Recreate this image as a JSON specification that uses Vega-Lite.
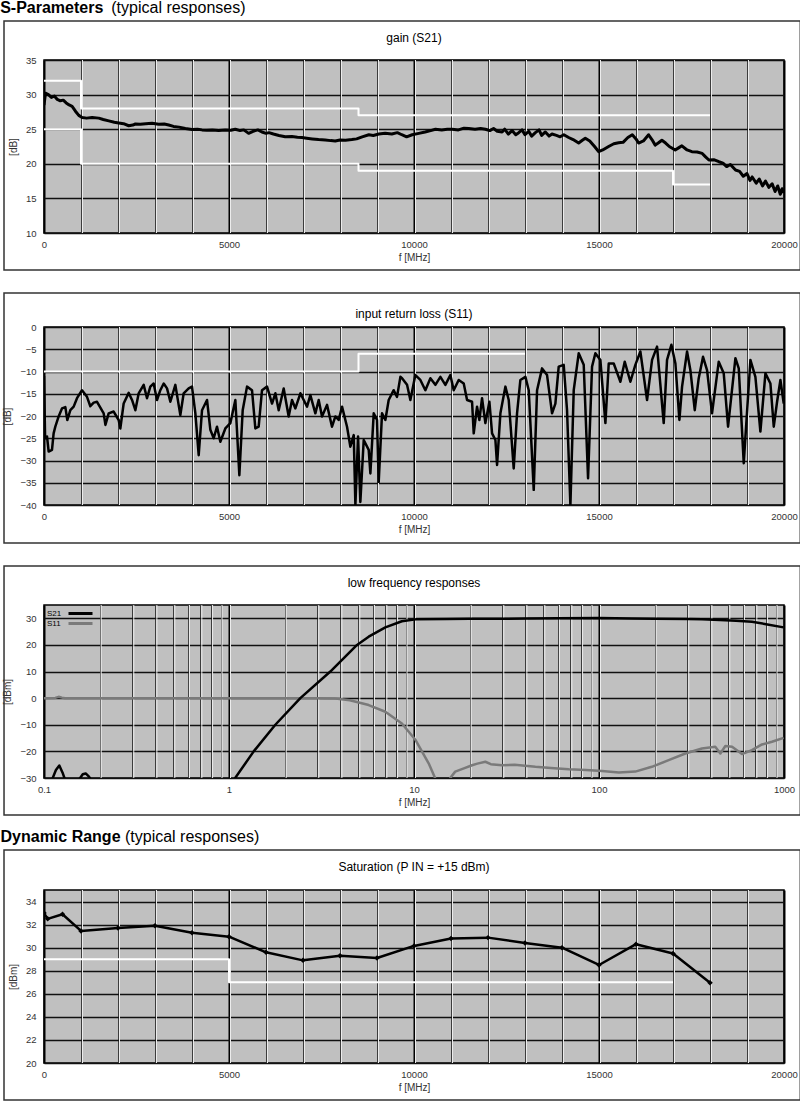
{
  "background": "white",
  "padding": 0,
  "config": {
    "font": "Liberation Sans",
    "view": {"fill": "#c0c0c0", "stroke": "#000", "strokeWidth": 1.5},
    "axis": {"labelFont": "Liberation Sans", "labelFontSize": 9.5, "labelColor": "#333", "titleFont": "Liberation Sans", "titleFontSize": 10, "titleFontWeight": "normal", "titleColor": "#333", "ticks": false, "domain": false, "grid": true, "gridOpacity": 1, "labelFlush": false, "labelOverlap": false, "labelBound": false},
    "axisX": {"labelPadding": 6, "titlePadding": 4},
    "axisY": {"labelPadding": 8, "titlePadding": 7},
    "title": {"font": "Liberation Sans", "fontSize": 12, "fontWeight": "normal", "color": "#000"},
    "line": {"strokeJoin": "round"}
  },
  "datasets": {
    "gridLin": [{"f":1000},{"f":2000},{"f":3000},{"f":4000},{"f":5000},{"f":6000},{"f":7000},{"f":8000},{"f":9000},{"f":10000},{"f":11000},{"f":12000},{"f":13000},{"f":14000},{"f":15000},{"f":16000},{"f":17000},{"f":18000},{"f":19000}],
    "gridLog": [{"f":0.2},{"f":0.3},{"f":0.4},{"f":0.5},{"f":0.6},{"f":0.7},{"f":0.8},{"f":0.9},{"f":1},{"f":2},{"f":3},{"f":4},{"f":5},{"f":6},{"f":7},{"f":8},{"f":9},{"f":10},{"f":20},{"f":30},{"f":40},{"f":50},{"f":60},{"f":70},{"f":80},{"f":90},{"f":100},{"f":200},{"f":300},{"f":400},{"f":500},{"f":600},{"f":700},{"f":800},{"f":900}],
    "gain": [
      {"f":0,"v":28.5},{"f":40,"v":30.2},{"f":120,"v":30.0},{"f":200,"v":29.6},{"f":280,"v":29.8},{"f":360,"v":29.3},{"f":440,"v":29.1},{"f":520,"v":29.2},{"f":600,"v":28.8},{"f":680,"v":28.5},{"f":760,"v":28.3},{"f":850,"v":27.6},{"f":940,"v":27.0},{"f":1030,"v":26.7},{"f":1150,"v":26.6},{"f":1300,"v":26.7},{"f":1480,"v":26.6},{"f":1600,"v":26.4},{"f":1750,"v":26.2},{"f":1900,"v":26.0},{"f":2020,"v":25.9},{"f":2150,"v":25.8},{"f":2290,"v":25.5},{"f":2400,"v":25.6},{"f":2470,"v":25.75},{"f":2600,"v":25.7},{"f":2750,"v":25.8},{"f":2920,"v":25.85},{"f":3100,"v":25.7},{"f":3250,"v":25.75},{"f":3370,"v":25.6},{"f":3500,"v":25.4},{"f":3650,"v":25.3},{"f":3820,"v":25.1},{"f":4000,"v":24.95},{"f":4150,"v":25.0},{"f":4270,"v":24.9},{"f":4400,"v":24.85},{"f":4550,"v":24.9},{"f":4720,"v":24.8},{"f":4900,"v":24.9},{"f":5050,"v":24.85},{"f":5170,"v":25.0},{"f":5300,"v":24.8},{"f":5400,"v":24.9},{"f":5530,"v":24.4},{"f":5650,"v":24.7},{"f":5780,"v":24.9},{"f":5890,"v":24.6},{"f":6000,"v":24.4},{"f":6080,"v":24.5},{"f":6200,"v":24.3},{"f":6350,"v":24.1},{"f":6520,"v":23.9},{"f":6700,"v":23.95},{"f":6850,"v":23.85},{"f":6970,"v":23.8},{"f":7100,"v":23.7},{"f":7250,"v":23.6},{"f":7420,"v":23.5},{"f":7600,"v":23.45},{"f":7750,"v":23.35},{"f":7870,"v":23.3},{"f":8000,"v":23.45},{"f":8150,"v":23.4},{"f":8320,"v":23.5},{"f":8450,"v":23.6},{"f":8600,"v":23.9},{"f":8780,"v":24.2},{"f":8900,"v":24.1},{"f":9050,"v":24.3},{"f":9220,"v":24.4},{"f":9400,"v":24.3},{"f":9550,"v":24.5},{"f":9670,"v":24.2},{"f":9800,"v":23.9},{"f":9950,"v":24.2},{"f":10130,"v":24.4},{"f":10300,"v":24.6},{"f":10450,"v":24.8},{"f":10580,"v":25.0},{"f":10750,"v":24.9},{"f":10900,"v":25.0},{"f":11030,"v":25.0},{"f":11200,"v":24.9},{"f":11350,"v":25.15},{"f":11480,"v":25.1},{"f":11650,"v":25.0},{"f":11800,"v":25.1},{"f":11930,"v":25.0},{"f":12050,"v":24.8},{"f":12150,"v":25.1},{"f":12250,"v":24.7},{"f":12380,"v":24.6},{"f":12450,"v":25.0},{"f":12550,"v":24.3},{"f":12650,"v":24.8},{"f":12750,"v":24.2},{"f":12830,"v":24.5},{"f":12920,"v":24.9},{"f":13000,"v":24.2},{"f":13100,"v":24.7},{"f":13180,"v":24.0},{"f":13280,"v":24.5},{"f":13380,"v":24.9},{"f":13450,"v":24.1},{"f":13550,"v":24.6},{"f":13650,"v":24.0},{"f":13730,"v":24.3},{"f":13850,"v":24.1},{"f":13950,"v":23.9},{"f":14050,"v":24.2},{"f":14180,"v":23.8},{"f":14300,"v":23.5},{"f":14450,"v":23.0},{"f":14550,"v":23.4},{"f":14630,"v":23.7},{"f":14750,"v":23.3},{"f":14880,"v":22.5},{"f":14990,"v":21.75},{"f":15100,"v":22.0},{"f":15260,"v":22.5},{"f":15400,"v":22.9},{"f":15530,"v":23.05},{"f":15650,"v":23.1},{"f":15780,"v":23.8},{"f":15900,"v":24.2},{"f":16000,"v":23.6},{"f":16070,"v":23.0},{"f":16200,"v":23.3},{"f":16340,"v":24.2},{"f":16430,"v":23.5},{"f":16520,"v":22.7},{"f":16600,"v":23.0},{"f":16700,"v":23.4},{"f":16800,"v":23.0},{"f":16900,"v":22.5},{"f":17060,"v":22.0},{"f":17150,"v":22.3},{"f":17240,"v":22.6},{"f":17380,"v":22.0},{"f":17510,"v":21.75},{"f":17650,"v":21.7},{"f":17790,"v":21.5},{"f":17880,"v":21.0},{"f":17970,"v":20.55},{"f":18100,"v":20.6},{"f":18240,"v":20.3},{"f":18350,"v":20.1},{"f":18450,"v":19.6},{"f":18550,"v":19.9},{"f":18690,"v":19.1},{"f":18800,"v":18.9},{"f":18900,"v":18.2},{"f":19000,"v":18.6},{"f":19080,"v":17.6},{"f":19140,"v":18.1},{"f":19250,"v":17.2},{"f":19330,"v":17.8},{"f":19420,"v":16.8},{"f":19500,"v":17.5},{"f":19590,"v":16.6},{"f":19680,"v":17.1},{"f":19760,"v":16.0},{"f":19830,"v":16.8},{"f":19900,"v":15.6},{"f":19950,"v":16.4},{"f":20000,"v":15.8}
    ],
    "gainLim": [
      {"s":"upper","f":0,"v":32},{"s":"upper","f":1000,"v":28},{"s":"upper","f":8500,"v":27},{"s":"upper","f":18000,"v":27},
      {"s":"lower","f":0,"v":25},{"s":"lower","f":1000,"v":20},{"s":"lower","f":8500,"v":19},{"s":"lower","f":17000,"v":17},{"s":"lower","f":18000,"v":17}
    ],
    "s11": [
      {"f":0,"v":-11},{"f":30,"v":-25},{"f":81,"v":-24.6},{"f":126,"v":-28.0},{"f":216,"v":-27.6},{"f":260,"v":-23.9},{"f":306,"v":-22.4},{"f":396,"v":-20.1},{"f":486,"v":-18.3},{"f":577,"v":-18.0},{"f":630,"v":-20.9},{"f":712,"v":-18.7},{"f":802,"v":-17.9},{"f":892,"v":-16.0},{"f":1027,"v":-14.2},{"f":1162,"v":-15.7},{"f":1252,"v":-17.8},{"f":1343,"v":-17.0},{"f":1433,"v":-16.8},{"f":1523,"v":-18.1},{"f":1613,"v":-19.4},{"f":1660,"v":-22.0},{"f":1748,"v":-19.4},{"f":1883,"v":-19.0},{"f":2018,"v":-20.9},{"f":2063,"v":-22.8},{"f":2153,"v":-17.2},{"f":2289,"v":-14.8},{"f":2379,"v":-16.4},{"f":2469,"v":-18.7},{"f":2559,"v":-14.9},{"f":2694,"v":-13.0},{"f":2784,"v":-16.0},{"f":2874,"v":-13.4},{"f":2964,"v":-12.7},{"f":3054,"v":-16.4},{"f":3144,"v":-14.2},{"f":3235,"v":-12.7},{"f":3325,"v":-13.8},{"f":3415,"v":-16.8},{"f":3550,"v":-13.0},{"f":3685,"v":-19.8},{"f":3775,"v":-14.9},{"f":3910,"v":-13.8},{"f":4000,"v":-13.4},{"f":4091,"v":-19.4},{"f":4181,"v":-28.8},{"f":4271,"v":-18.7},{"f":4406,"v":-16.4},{"f":4496,"v":-23.1},{"f":4586,"v":-25.0},{"f":4676,"v":-22.4},{"f":4766,"v":-25.8},{"f":4901,"v":-22.8},{"f":5036,"v":-21.6},{"f":5172,"v":-16.4},{"f":5280,"v":-33.3},{"f":5370,"v":-18.7},{"f":5487,"v":-13.4},{"f":5622,"v":-14.2},{"f":5712,"v":-22.8},{"f":5802,"v":-22.4},{"f":5892,"v":-14.2},{"f":6028,"v":-13.4},{"f":6163,"v":-17.2},{"f":6253,"v":-14.9},{"f":6343,"v":-18.7},{"f":6478,"v":-13.8},{"f":6613,"v":-20.1},{"f":6703,"v":-16.4},{"f":6794,"v":-18.3},{"f":6929,"v":-14.9},{"f":7019,"v":-16.4},{"f":7109,"v":-17.9},{"f":7199,"v":-15.3},{"f":7334,"v":-19.4},{"f":7424,"v":-16.4},{"f":7514,"v":-20.1},{"f":7649,"v":-17.5},{"f":7784,"v":-22.4},{"f":7875,"v":-20.1},{"f":7965,"v":-20.9},{"f":8055,"v":-17.9},{"f":8190,"v":-22.4},{"f":8280,"v":-26.9},{"f":8371,"v":-24.3},{"f":8416,"v":-40},{"f":8488,"v":-24.6},{"f":8550,"v":-39.3},{"f":8641,"v":-25.4},{"f":8776,"v":-27.6},{"f":8821,"v":-32.9},{"f":8911,"v":-19.4},{"f":9001,"v":-20.9},{"f":9046,"v":-34.8},{"f":9136,"v":-19.4},{"f":9226,"v":-20.9},{"f":9316,"v":-16.4},{"f":9451,"v":-14.2},{"f":9541,"v":-15.7},{"f":9632,"v":-11.2},
      {"f":9677,"v":-11.5},{"f":9812,"v":-13.0},{"f":9902,"v":-16.4},{"f":10037,"v":-10.8},{"f":10172,"v":-11.9},{"f":10307,"v":-14.2},{"f":10443,"v":-11.5},{"f":10578,"v":-13.0},{"f":10713,"v":-11.2},{"f":10848,"v":-13.0},{"f":10983,"v":-10.8},{"f":11073,"v":-14.2},{"f":11208,"v":-11.9},{"f":11344,"v":-12.7},{"f":11434,"v":-16.4},{"f":11569,"v":-16.8},{"f":11614,"v":-23.9},{"f":11704,"v":-17.9},{"f":11767,"v":-20.9},{"f":11839,"v":-16.0},{"f":11929,"v":-21.6},{"f":12038,"v":-16.8},{"f":12110,"v":-23.9},{"f":12200,"v":-25.4},{"f":12245,"v":-31.0},{"f":12335,"v":-19.4},{"f":12470,"v":-13.4},{"f":12560,"v":-16.4},{"f":12695,"v":-31.8},{"f":12785,"v":-19.4},{"f":12875,"v":-11.9},{"f":13011,"v":-11.2},{"f":13101,"v":-14.2},{"f":13236,"v":-36.6},{"f":13326,"v":-14.2},{"f":13461,"v":-9.3},{"f":13596,"v":-10.8},{"f":13731,"v":-19.4},{"f":13821,"v":-17.2},{"f":13911,"v":-8.9},{"f":14046,"v":-8.5},{"f":14136,"v":-18.7},{"f":14227,"v":-40},{"f":14317,"v":-14.2},{"f":14452,"v":-5.9},{"f":14587,"v":-8.5},{"f":14704,"v":-34.0},{"f":14812,"v":-8.9},{"f":14902,"v":-5.9},{"f":15037,"v":-7.4},{"f":15173,"v":-21.6},{"f":15263,"v":-8.2},{"f":15398,"v":-8.2},{"f":15578,"v":-12.3},{"f":15695,"v":-7.8},{"f":15848,"v":-12.3},{"f":15983,"v":-8.5},{"f":16118,"v":-5.5},{"f":16299,"v":-16.4},{"f":16434,"v":-7.4},{"f":16569,"v":-4.4},{"f":16749,"v":-21.6},{"f":16839,"v":-7.4},{"f":16956,"v":-4.0},{"f":17065,"v":-8.2},{"f":17173,"v":-20.9},{"f":17245,"v":-13.4},{"f":17380,"v":-5.5},{"f":17470,"v":-9.7},{"f":17588,"v":-18.7},{"f":17695,"v":-11.5},{"f":17812,"v":-6.7},{"f":17920,"v":-9.7},{"f":18055,"v":-19.4},{"f":18236,"v":-7.8},{"f":18371,"v":-10.4},{"f":18488,"v":-22.4},{"f":18687,"v":-7.0},{"f":18777,"v":-9.3},{"f":18912,"v":-30.6},{"f":19092,"v":-7.4},{"f":19227,"v":-11.2},{"f":19362,"v":-23.5},{"f":19498,"v":-10.4},{"f":19633,"v":-12.7},{"f":19723,"v":-22.4},{"f":19813,"v":-16.8},{"f":19903,"v":-11.9},{"f":19993,"v":-17.2}
    ],
    "s11Lim": [
      {"f":0,"v":-10},{"f":8500,"v":-6},{"f":13000,"v":-6}
    ],
    "lf": [
      {"s":"S11","f":0.1,"v":0},{"s":"S11","f":0.115,"v":0.1},{"s":"S11","f":0.12,"v":0.5},{"s":"S11","f":0.125,"v":0.2},{"s":"S11","f":0.13,"v":0},{"s":"S11","f":0.5,"v":0},{"s":"S11","f":1,"v":0},{"s":"S11","f":2,"v":0},{"s":"S11","f":3,"v":0},{"s":"S11","f":3.76,"v":-0.1},{"s":"S11","f":4.5,"v":-0.8},{"s":"S11","f":5.69,"v":-2.6},{"s":"S11","f":7.0,"v":-5.1},{"s":"S11","f":8.6,"v":-9.5},{"s":"S11","f":10.2,"v":-15.75},{"s":"S11","f":12.0,"v":-24.5},{"s":"S11","f":13.0,"v":-30},{"s":"S11","f":13.5,"v":-33},{"s":"S11","f":15.0,"v":-33},{"s":"S11","f":15.7,"v":-30},{"s":"S11","f":16.7,"v":-27.6},{"s":"S11","f":18.6,"v":-26.4},{"s":"S11","f":20.6,"v":-25.2},{"s":"S11","f":22,"v":-24.6},{"s":"S11","f":24.3,"v":-23.9},{"s":"S11","f":26,"v":-24.8},{"s":"S11","f":29.9,"v":-25.2},{"s":"S11","f":35,"v":-25.0},{"s":"S11","f":45.3,"v":-25.8},{"s":"S11","f":55,"v":-26.2},{"s":"S11","f":68.6,"v":-26.7},{"s":"S11","f":85,"v":-27.0},{"s":"S11","f":104,"v":-27.4},{"s":"S11","f":128,"v":-27.9},{"s":"S11","f":157,"v":-27.6},{"s":"S11","f":193,"v":-25.8},{"s":"S11","f":238,"v":-23.3},{"s":"S11","f":293,"v":-20.8},{"s":"S11","f":360,"v":-18.9},{"s":"S11","f":425,"v":-18.3},{"s":"S11","f":453,"v":-20.8},{"s":"S11","f":482,"v":-18.0},{"s":"S11","f":524,"v":-18.3},{"s":"S11","f":593,"v":-21.0},{"s":"S11","f":671,"v":-19.5},{"s":"S11","f":760,"v":-17.4},{"s":"S11","f":861,"v":-16.4},{"s":"S11","f":995,"v":-14.9},
      {"s":"S21","f":0.1,"v":-34},{"s":"S21","f":0.11,"v":-31},{"s":"S21","f":0.116,"v":-27},{"s":"S21","f":0.121,"v":-25.3},{"s":"S21","f":0.126,"v":-28},{"s":"S21","f":0.132,"v":-32},{"s":"S21","f":0.145,"v":-34},{"s":"S21","f":0.155,"v":-30.5},{"s":"S21","f":0.162,"v":-28.6},{"s":"S21","f":0.168,"v":-28.3},{"s":"S21","f":0.175,"v":-29.5},{"s":"S21","f":0.185,"v":-32},{"s":"S21","f":0.2,"v":-35},{"s":"S21","f":1.0,"v":-36},{"s":"S21","f":1.08,"v":-30},{"s":"S21","f":1.36,"v":-20},{"s":"S21","f":1.78,"v":-10},{"s":"S21","f":2.43,"v":0},{"s":"S21","f":3.53,"v":10},{"s":"S21","f":4.92,"v":20},{"s":"S21","f":5.69,"v":23.1},{"s":"S21","f":7.0,"v":26.6},{"s":"S21","f":8.6,"v":28.9},{"s":"S21","f":10.2,"v":29.6},{"s":"S21","f":15,"v":29.7},{"s":"S21","f":20,"v":29.8},{"s":"S21","f":40,"v":29.9},{"s":"S21","f":60,"v":30.0},{"s":"S21","f":100,"v":30.1},{"s":"S21","f":150,"v":29.9},{"s":"S21","f":200,"v":29.8},{"s":"S21","f":300,"v":29.7},{"s":"S21","f":360,"v":29.6},{"s":"S21","f":450,"v":29.4},{"s":"S21","f":550,"v":29.1},{"s":"S21","f":671,"v":28.7},{"s":"S21","f":800,"v":27.8},{"s":"S21","f":995,"v":26.6}
    ],
    "sat": [
      {"f":0,"v":33.0},{"f":100,"v":32.5},{"f":500,"v":32.9},{"f":1000,"v":31.45},{"f":2000,"v":31.7},{"f":3000,"v":31.9},{"f":4000,"v":31.3},{"f":5000,"v":30.95},{"f":6000,"v":29.6},{"f":7000,"v":28.9},{"f":8000,"v":29.3},{"f":9000,"v":29.1},{"f":10000,"v":30.15},{"f":11000,"v":30.8},{"f":12000,"v":30.87},{"f":13000,"v":30.4},{"f":14000,"v":30.0},{"f":15000,"v":28.5},{"f":16000,"v":30.3},{"f":17000,"v":29.5},{"f":18000,"v":26.96}
    ],
    "satLim": [
      {"f":0,"v":29},{"f":5000,"v":27},{"f":17000,"v":27}
    ]
  },
  "spacing": 12,
  "resolve": {"legend": {"color": "independent"}},
  "vconcat": [
    {
      "title": {"text": "S-Parameters", "subtitle": "\u200b\u00a0\u00a0\u00a0\u00a0\u00a0\u00a0\u00a0\u00a0\u00a0\u00a0\u00a0\u00a0\u00a0\u00a0\u00a0\u00a0\u00a0\u00a0\u00a0\u00a0\u00a0\u00a0\u00a0\u00a0\u00a0(typical responses)", "anchor": "start", "frame": "bounds", "fontSize": 16, "fontWeight": "bold", "subtitleFont": "Liberation Sans", "subtitleFontSize": 16, "subtitleColor": "#000", "subtitlePadding": -16, "offset": 3, "dx": -2},
      "spacing": 19,
      "resolve": {"legend": {"color": "independent"}},
      "vconcat": [
        {
          "width": 740, "height": 173,
          "title": {"text": "gain (S21)", "offset": -25, "anchor": "middle", "frame": "group"},
          "layer": [
            {"data": {"values": [{}]}, "mark": {"type": "rect", "fill": null, "stroke": "#333", "strokeWidth": 1.5, "clip": false},
             "encoding": {
               "x": {"datum": -1081, "type": "quantitative", "scale": {"domain": [0, 20000], "nice": false, "zero": false},
                     "axis": {"title": "f [MHz]", "format": "d", "values": [0,1000,2000,3000,4000,5000,6000,7000,8000,9000,10000,11000,12000,13000,14000,15000,16000,17000,18000,19000,20000], "labelExpr": "datum.value % 5000 === 0 ? datum.label : ''", "gridWidth": {"condition": {"test": "datum.value % 5000 === 0", "value": 2}, "value": 1}, "gridColor": {"condition": {"test": "datum.value % 5000 === 0", "value": "#000"}, "value": "#3c3c3c"}}},
               "x2": {"datum": 20440},
               "y": {"datum": 40.64, "type": "quantitative", "scale": {"domain": [10, 35], "nice": false, "zero": false},
                     "axis": {"title": "[dB]", "values": [10,15,20,25,30,35], "gridColor": "#111", "gridWidth": 1.5}},
               "y2": {"datum": 4.65}}},
            {"data": {"name": "gridLin"}, "mark": {"type": "rule", "color": "#ececec", "strokeWidth": 1, "xOffset": 1.5},
             "encoding": {
               "x": {"field": "f", "type": "quantitative", "axis": {"title": "f [MHz]", "format": "d", "values": [0,1000,2000,3000,4000,5000,6000,7000,8000,9000,10000,11000,12000,13000,14000,15000,16000,17000,18000,19000,20000], "labelExpr": "datum.value % 5000 === 0 ? datum.label : ''", "gridWidth": {"condition": {"test": "datum.value % 5000 === 0", "value": 2}, "value": 1}, "gridColor": {"condition": {"test": "datum.value % 5000 === 0", "value": "#000"}, "value": "#3c3c3c"}}}}},
            {"data": {"name": "gainLim"}, "mark": {"type": "line", "interpolate": "step-after", "color": "white", "strokeWidth": 2},
             "encoding": {
               "x": {"field": "f", "type": "quantitative", "axis": {"title": "f [MHz]", "format": "d", "values": [0,1000,2000,3000,4000,5000,6000,7000,8000,9000,10000,11000,12000,13000,14000,15000,16000,17000,18000,19000,20000], "labelExpr": "datum.value % 5000 === 0 ? datum.label : ''", "gridWidth": {"condition": {"test": "datum.value % 5000 === 0", "value": 2}, "value": 1}, "gridColor": {"condition": {"test": "datum.value % 5000 === 0", "value": "#000"}, "value": "#3c3c3c"}}},
               "y": {"field": "v", "type": "quantitative", "axis": {"title": "[dB]", "values": [10,15,20,25,30,35], "gridColor": "#111", "gridWidth": 1.5}},
               "detail": {"field": "s"}}},
            {"data": {"name": "gain"}, "mark": {"type": "line", "color": "black", "strokeWidth": 3, "clip": true},
             "encoding": {
               "x": {"field": "f", "type": "quantitative", "axis": {"title": "f [MHz]", "format": "d", "values": [0,1000,2000,3000,4000,5000,6000,7000,8000,9000,10000,11000,12000,13000,14000,15000,16000,17000,18000,19000,20000], "labelExpr": "datum.value % 5000 === 0 ? datum.label : ''", "gridWidth": {"condition": {"test": "datum.value % 5000 === 0", "value": 2}, "value": 1}, "gridColor": {"condition": {"test": "datum.value % 5000 === 0", "value": "#000"}, "value": "#3c3c3c"}}},
               "y": {"field": "v", "type": "quantitative", "axis": {"title": "[dB]", "values": [10,15,20,25,30,35], "gridColor": "#111", "gridWidth": 1.5}}
             }}
          ]
        },
        {
          "width": 740, "height": 178,
          "title": {"text": "input return loss (S11)", "offset": -29, "anchor": "middle", "frame": "group"},
          "layer": [
            {"data": {"values": [{}]}, "mark": {"type": "rect", "fill": null, "stroke": "#333", "strokeWidth": 1.5, "clip": false},
             "encoding": {
               "x": {"datum": -1081, "type": "quantitative", "scale": {"domain": [0, 20000], "nice": false, "zero": false},
                     "axis": {"title": "f [MHz]", "format": "d", "values": [0,1000,2000,3000,4000,5000,6000,7000,8000,9000,10000,11000,12000,13000,14000,15000,16000,17000,18000,19000,20000], "labelExpr": "datum.value % 5000 === 0 ? datum.label : ''", "gridWidth": {"condition": {"test": "datum.value % 5000 === 0", "value": 2}, "value": 1}, "gridColor": {"condition": {"test": "datum.value % 5000 === 0", "value": "#000"}, "value": "#3c3c3c"}}},
               "x2": {"datum": 20440},
               "y": {"datum": 7.64, "type": "quantitative", "scale": {"domain": [-40, 0], "nice": false, "zero": false},
                     "axis": {"title": "[dB]", "values": [-40,-35,-30,-25,-20,-15,-10,-5,0], "gridColor": "#111", "gridWidth": 1.5}},
               "y2": {"datum": -48.54}}},
            {"data": {"name": "gridLin"}, "mark": {"type": "rule", "color": "#ececec", "strokeWidth": 1, "xOffset": 1.5},
             "encoding": {
               "x": {"field": "f", "type": "quantitative", "axis": {"title": "f [MHz]", "format": "d", "values": [0,1000,2000,3000,4000,5000,6000,7000,8000,9000,10000,11000,12000,13000,14000,15000,16000,17000,18000,19000,20000], "labelExpr": "datum.value % 5000 === 0 ? datum.label : ''", "gridWidth": {"condition": {"test": "datum.value % 5000 === 0", "value": 2}, "value": 1}, "gridColor": {"condition": {"test": "datum.value % 5000 === 0", "value": "#000"}, "value": "#3c3c3c"}}}}},
            {"data": {"name": "s11Lim"}, "mark": {"type": "line", "interpolate": "step-after", "color": "white", "strokeWidth": 2},
             "encoding": {
               "x": {"field": "f", "type": "quantitative", "axis": {"title": "f [MHz]", "format": "d", "values": [0,1000,2000,3000,4000,5000,6000,7000,8000,9000,10000,11000,12000,13000,14000,15000,16000,17000,18000,19000,20000], "labelExpr": "datum.value % 5000 === 0 ? datum.label : ''", "gridWidth": {"condition": {"test": "datum.value % 5000 === 0", "value": 2}, "value": 1}, "gridColor": {"condition": {"test": "datum.value % 5000 === 0", "value": "#000"}, "value": "#3c3c3c"}}},
               "y": {"field": "v", "type": "quantitative", "axis": {"title": "[dB]", "values": [-40,-35,-30,-25,-20,-15,-10,-5,0], "gridColor": "#111", "gridWidth": 1.5}}}},
            {"data": {"name": "s11"}, "mark": {"type": "line", "color": "black", "strokeWidth": 2.5, "clip": true},
             "encoding": {
               "x": {"field": "f", "type": "quantitative", "axis": {"title": "f [MHz]", "format": "d", "values": [0,1000,2000,3000,4000,5000,6000,7000,8000,9000,10000,11000,12000,13000,14000,15000,16000,17000,18000,19000,20000], "labelExpr": "datum.value % 5000 === 0 ? datum.label : ''", "gridWidth": {"condition": {"test": "datum.value % 5000 === 0", "value": 2}, "value": 1}, "gridColor": {"condition": {"test": "datum.value % 5000 === 0", "value": "#000"}, "value": "#3c3c3c"}}},
               "y": {"field": "v", "type": "quantitative", "axis": {"title": "[dB]", "values": [-40,-35,-30,-25,-20,-15,-10,-5,0], "gridColor": "#111", "gridWidth": 1.5}}
             }}
          ]
        },
        {
          "width": 740, "height": 173,
          "title": {"text": "low frequency responses", "offset": -25, "anchor": "middle", "frame": "group"},
          "layer": [
            {"data": {"values": [{}]}, "mark": {"type": "rect", "fill": null, "stroke": "#333", "strokeWidth": 1.5, "clip": false},
             "encoding": {
               "x": {"datum": 0.0608, "type": "quantitative", "scale": {"type": "log", "domain": [0.1, 1000], "nice": false},
                     "axis": {"title": "f [MHz]", "format": "~g", "values": [0.1,0.2,0.3,0.4,0.5,0.6,0.7,0.8,0.9,1,2,3,4,5,6,7,8,9,10,20,30,40,50,60,70,80,90,100,200,300,400,500,600,700,800,900,1000], "labelExpr": "(datum.value == 0.1 || datum.value == 1 || datum.value == 10 || datum.value == 100 || datum.value == 1000) ? datum.label : ''", "gridWidth": {"condition": {"test": "datum.value == 0.1 || datum.value == 1 || datum.value == 10 || datum.value == 100 || datum.value == 1000", "value": 2}, "value": 1}, "gridColor": {"condition": {"test": "datum.value == 0.1 || datum.value == 1 || datum.value == 10 || datum.value == 100 || datum.value == 1000", "value": "#000"}, "value": "#3c3c3c"}}},
               "x2": {"datum": 1225},
               "y": {"datum": 49.65, "type": "quantitative", "scale": {"domain": [-30, 35], "nice": false, "zero": false},
                     "axis": {"title": "[dBm]", "values": [-30,-20,-10,0,10,20,30], "gridColor": "#111", "gridWidth": 1.5}},
               "y2": {"datum": -43.9}}},
            {"data": {"name": "gridLog"}, "mark": {"type": "rule", "color": "#ececec", "strokeWidth": 1, "xOffset": 1.5},
             "encoding": {
               "x": {"field": "f", "type": "quantitative",
                     "axis": {"title": "f [MHz]", "format": "~g", "values": [0.1,0.2,0.3,0.4,0.5,0.6,0.7,0.8,0.9,1,2,3,4,5,6,7,8,9,10,20,30,40,50,60,70,80,90,100,200,300,400,500,600,700,800,900,1000], "labelExpr": "(datum.value == 0.1 || datum.value == 1 || datum.value == 10 || datum.value == 100 || datum.value == 1000) ? datum.label : ''", "gridWidth": {"condition": {"test": "datum.value == 0.1 || datum.value == 1 || datum.value == 10 || datum.value == 100 || datum.value == 1000", "value": 2}, "value": 1}, "gridColor": {"condition": {"test": "datum.value == 0.1 || datum.value == 1 || datum.value == 10 || datum.value == 100 || datum.value == 1000", "value": "#000"}, "value": "#3c3c3c"}}}}},
            {"data": {"name": "lf"}, "mark": {"type": "line", "strokeWidth": 2.5, "clip": true},
             "encoding": {
               "x": {"field": "f", "type": "quantitative",
                     "axis": {"title": "f [MHz]", "format": "~g", "values": [0.1,0.2,0.3,0.4,0.5,0.6,0.7,0.8,0.9,1,2,3,4,5,6,7,8,9,10,20,30,40,50,60,70,80,90,100,200,300,400,500,600,700,800,900,1000], "labelExpr": "(datum.value == 0.1 || datum.value == 1 || datum.value == 10 || datum.value == 100 || datum.value == 1000) ? datum.label : ''", "gridWidth": {"condition": {"test": "datum.value == 0.1 || datum.value == 1 || datum.value == 10 || datum.value == 100 || datum.value == 1000", "value": 2}, "value": 1}, "gridColor": {"condition": {"test": "datum.value == 0.1 || datum.value == 1 || datum.value == 10 || datum.value == 100 || datum.value == 1000", "value": "#000"}, "value": "#3c3c3c"}}},
               "y": {"field": "v", "type": "quantitative",
                     "axis": {"title": "[dBm]", "values": [-30,-20,-10,0,10,20,30], "gridColor": "#111", "gridWidth": 1.5}},
               "color": {"field": "s", "type": "nominal", "scale": {"domain": ["S21", "S11"], "range": ["#000000", "#7a7a7a"]},
                         "legend": {"title": null, "orient": "top-left", "offset": 3, "padding": 0, "labelFont": "Liberation Sans", "labelFontSize": 8, "labelColor": "#000", "symbolType": "M-3,0H3", "symbolStrokeWidth": 3, "symbolSize": 64, "labelOffset": -39, "symbolOffset": 28, "rowPadding": 0}}
             }}
          ]
        }
      ]
    },
    {
      "title": {"text": "Dynamic Range", "subtitle": "\u200b\u00a0\u00a0\u00a0\u00a0\u00a0\u00a0\u00a0\u00a0\u00a0\u00a0\u00a0\u00a0\u00a0\u00a0\u00a0\u00a0\u00a0\u00a0\u00a0\u00a0\u00a0\u00a0\u00a0\u00a0\u00a0\u00a0\u00a0\u00a0(typical responses)", "anchor": "start", "frame": "bounds", "fontSize": 16, "fontWeight": "bold", "subtitleFont": "Liberation Sans", "subtitleFontSize": 16, "subtitleColor": "#000", "subtitlePadding": -16, "offset": 3, "dx": -2},
      "vconcat": [
        {
          "width": 740, "height": 173,
          "title": {"text": "Saturation (P IN = +15 dBm)", "offset": -25, "anchor": "middle", "frame": "group"},
          "layer": [
            {"data": {"values": [{}]}, "mark": {"type": "rect", "fill": null, "stroke": "#333", "strokeWidth": 1.5, "clip": false},
             "encoding": {
               "x": {"datum": -1081, "type": "quantitative", "scale": {"domain": [0, 20000], "nice": false, "zero": false},
                     "axis": {"title": "f [MHz]", "format": "d", "values": [0,1000,2000,3000,4000,5000,6000,7000,8000,9000,10000,11000,12000,13000,14000,15000,16000,17000,18000,19000,20000], "labelExpr": "datum.value % 5000 === 0 ? datum.label : ''", "gridWidth": {"condition": {"test": "datum.value % 5000 === 0", "value": 2}, "value": 1}, "gridColor": {"condition": {"test": "datum.value % 5000 === 0", "value": "#000"}, "value": "#3c3c3c"}}},
               "x2": {"datum": 20440},
               "y": {"datum": 38.47, "type": "quantitative", "scale": {"domain": [20, 35], "nice": false, "zero": false},
                     "axis": {"title": "[dBm]", "values": [20,22,24,26,28,30,32,34], "gridColor": "#111", "gridWidth": 1.5}},
               "y2": {"datum": 16.79}}},
            {"data": {"name": "gridLin"}, "mark": {"type": "rule", "color": "#ececec", "strokeWidth": 1, "xOffset": 1.5},
             "encoding": {
               "x": {"field": "f", "type": "quantitative", "axis": {"title": "f [MHz]", "format": "d", "values": [0,1000,2000,3000,4000,5000,6000,7000,8000,9000,10000,11000,12000,13000,14000,15000,16000,17000,18000,19000,20000], "labelExpr": "datum.value % 5000 === 0 ? datum.label : ''", "gridWidth": {"condition": {"test": "datum.value % 5000 === 0", "value": 2}, "value": 1}, "gridColor": {"condition": {"test": "datum.value % 5000 === 0", "value": "#000"}, "value": "#3c3c3c"}}}}},
            {"data": {"name": "satLim"}, "mark": {"type": "line", "interpolate": "step-after", "color": "white", "strokeWidth": 2},
             "encoding": {
               "x": {"field": "f", "type": "quantitative", "axis": {"title": "f [MHz]", "format": "d", "values": [0,1000,2000,3000,4000,5000,6000,7000,8000,9000,10000,11000,12000,13000,14000,15000,16000,17000,18000,19000,20000], "labelExpr": "datum.value % 5000 === 0 ? datum.label : ''", "gridWidth": {"condition": {"test": "datum.value % 5000 === 0", "value": 2}, "value": 1}, "gridColor": {"condition": {"test": "datum.value % 5000 === 0", "value": "#000"}, "value": "#3c3c3c"}}},
               "y": {"field": "v", "type": "quantitative", "axis": {"title": "[dBm]", "values": [20,22,24,26,28,30,32,34], "gridColor": "#111", "gridWidth": 1.5}}}},
            {"data": {"name": "sat"}, "mark": {"type": "line", "color": "black", "strokeWidth": 2.5, "clip": true, "point": {"shape": "diamond", "filled": true, "size": 30, "color": "black"}},
             "encoding": {
               "x": {"field": "f", "type": "quantitative", "axis": {"title": "f [MHz]", "format": "d", "values": [0,1000,2000,3000,4000,5000,6000,7000,8000,9000,10000,11000,12000,13000,14000,15000,16000,17000,18000,19000,20000], "labelExpr": "datum.value % 5000 === 0 ? datum.label : ''", "gridWidth": {"condition": {"test": "datum.value % 5000 === 0", "value": 2}, "value": 1}, "gridColor": {"condition": {"test": "datum.value % 5000 === 0", "value": "#000"}, "value": "#3c3c3c"}}},
               "y": {"field": "v", "type": "quantitative", "axis": {"title": "[dBm]", "values": [20,22,24,26,28,30,32,34], "gridColor": "#111", "gridWidth": 1.5}}
             }}
          ]
        }
      ]
    }
  ]
}
